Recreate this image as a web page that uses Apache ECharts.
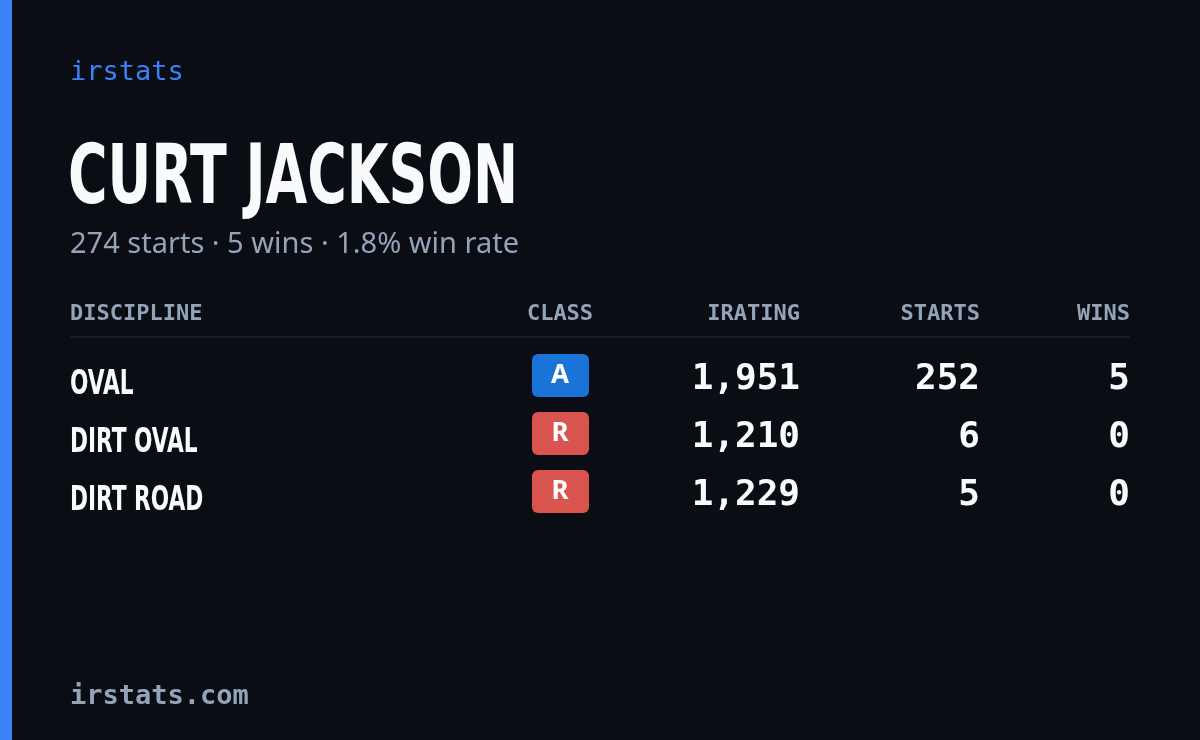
<!DOCTYPE html>
<html>
<head>
<meta charset="utf-8">
<script src="https://cdn.jsdelivr.net/npm/echarts@6/dist/echarts.min.js"></script>
<style>html,body{margin:0;padding:0;background:#0a0d14}#main{width:1200px;height:740px}</style>
</head>
<body>
<div id="main"></div>
<script>
var chartDom = document.getElementById('main');
var myChart = echarts.init(chartDom);

var driverName = 'CURT JACKSON';
var summary = '274 starts · 5 wins · 1.8% win rate';
var headers = ['DISCIPLINE', 'CLASS', 'IRATING', 'STARTS', 'WINS'];
var disciplines = ['OVAL', 'DIRT OVAL', 'DIRT ROAD'];
var classes = ['A', 'R', 'R'];
var iratings = [1951, 1210, 1229];
var starts = [252, 6, 5];
var wins = [5, 0, 0];

var mono = '"DejaVu Sans Mono", monospace';
var narrow = '"DejaVu Sans Condensed", sans-serif';
var classColor = { A: '#1a73d9', R: '#d9534f' };

var elements = [
    {type: 'rect', shape: {x: 0, y: 0, width: 12, height: 740}, style: {fill: '#3b82f6'}},
    {type: 'text', x: 70, y: 73, style: {text: 'irstats', fill: '#3b82f6', font: '27px ' + mono, verticalAlign: 'middle'}},
    {type: 'text', x: 68, y: 182, scaleX: 0.73, style: {text: driverName, fill: '#f8fafc', font: 'bold 82px ' + narrow, verticalAlign: 'middle'}},
    {type: 'text', x: 70, y: 245, style: {text: summary, fill: '#94a3b8', font: '29px "Noto Sans", sans-serif', verticalAlign: 'middle'}},
    {type: 'line', shape: {x1: 70, y1: 337, x2: 1130, y2: 337}, style: {stroke: '#1e2430', lineWidth: 1.5}},
    {type: 'text', x: 70, y: 697, style: {text: 'irstats.com', fill: '#94a3b8', font: 'bold 27px ' + mono, verticalAlign: 'middle'}}
];

var colX = [70, 560, 800, 980, 1130];
var colAlign = ['left', 'center', 'right', 'right', 'right'];
headers.forEach(function (h, i) {
    elements.push({type: 'text', x: colX[i], y: 314, style: {text: h, fill: '#94a3b8', font: 'bold 22px ' + mono, align: colAlign[i], verticalAlign: 'middle'}});
});

var rowY = [380, 438, 496];
disciplines.forEach(function (d, i) {
    var y = rowY[i];
    elements.push({type: 'text', x: 70, y: y + 5, scaleX: 0.73, style: {text: d, fill: '#f8fafc', font: 'bold 33px ' + narrow, verticalAlign: 'middle'}});
    elements.push({type: 'rect', shape: {x: 532, y: y - 26, width: 57, height: 43, r: 6}, style: {fill: classColor[classes[i]]}});
    elements.push({type: 'text', x: 560, y: y - 4, style: {text: classes[i], fill: '#fff', font: 'bold 26px "Noto Sans", sans-serif', align: 'center', verticalAlign: 'middle'}});
    elements.push({type: 'text', x: 800, y: y, style: {text: iratings[i].toLocaleString('en-US'), fill: '#f8fafc', font: 'bold 36px ' + mono, align: 'right', verticalAlign: 'middle'}});
    elements.push({type: 'text', x: 980, y: y, style: {text: String(starts[i]), fill: '#f8fafc', font: 'bold 36px ' + mono, align: 'right', verticalAlign: 'middle'}});
    elements.push({type: 'text', x: 1130, y: y, style: {text: String(wins[i]), fill: '#f8fafc', font: 'bold 36px ' + mono, align: 'right', verticalAlign: 'middle'}});
});

var option = {
    backgroundColor: '#0a0d14',
    graphic: {elements: elements}
};

option && myChart.setOption(option);
</script>
</body>
</html>
